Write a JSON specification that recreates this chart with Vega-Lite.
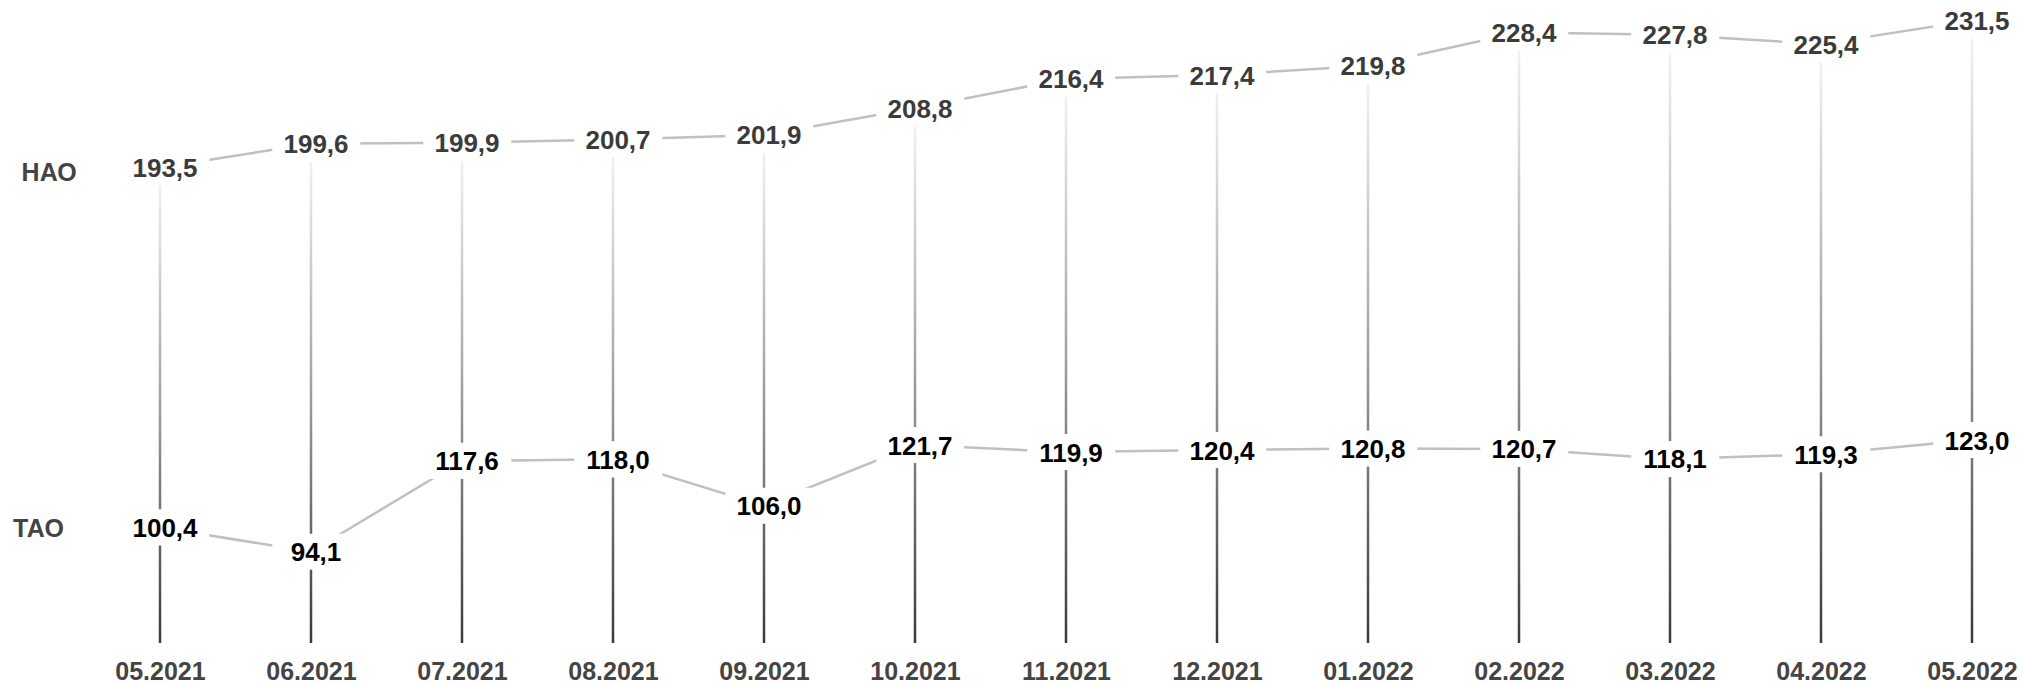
{
  "$schema": "https://vega.github.io/schema/vega-lite/v6.json",
  "width": 1812,
  "height": 636,
  "autosize": {"type": "none"},
  "padding": {"left": 160, "top": 7, "right": 50, "bottom": 40},
  "background": "white",
  "config": {
    "view": {"stroke": null},
    "locale": {"number": {"decimal": ",", "thousands": " ", "grouping": [3], "currency": ["", ""]}},
    "font": "Liberation Sans"
  },
  "data": {
    "values": [
      {"month": "05.2021", "hao": 193.5, "tao": 100.4},
      {"month": "06.2021", "hao": 199.6, "tao": 94.1},
      {"month": "07.2021", "hao": 199.9, "tao": 117.6},
      {"month": "08.2021", "hao": 200.7, "tao": 118.0},
      {"month": "09.2021", "hao": 201.9, "tao": 106.0},
      {"month": "10.2021", "hao": 208.8, "tao": 121.7},
      {"month": "11.2021", "hao": 216.4, "tao": 119.9},
      {"month": "12.2021", "hao": 217.4, "tao": 120.4},
      {"month": "01.2022", "hao": 219.8, "tao": 120.8},
      {"month": "02.2022", "hao": 228.4, "tao": 120.7},
      {"month": "03.2022", "hao": 227.8, "tao": 118.1},
      {"month": "04.2022", "hao": 225.4, "tao": 119.3},
      {"month": "05.2022", "hao": 231.5, "tao": 123.0}
    ]
  },
  "encoding": {
    "x": {
      "field": "month", "type": "ordinal", "sort": null,
      "scale": {"type": "point", "padding": 0},
      "axis": {
        "title": null, "domain": false, "ticks": false, "tickSize": 0, "grid": false,
        "labelAngle": 0, "labelPadding": 16, "labelBaseline": "top",
        "labelFont": "Liberation Sans", "labelFontSize": 25, "labelFontWeight": "bold",
        "labelColor": "#444444", "labelOverlap": false
      }
    }
  },
  "layer": [
    {
      "mark": {
        "type": "bar", "width": 2.5,
        "color": {
          "gradient": "linear", "x1": 0, "y1": 0, "x2": 0, "y2": 1,
          "stops": [
            {"offset": 0, "color": "#f7f6fa"},
            {"offset": 0.45, "color": "#a8a8a8"},
            {"offset": 1, "color": "#3a3a3a"}
          ]
        }
      },
      "encoding": {
        "y": {
          "field": "hao", "type": "quantitative",
          "scale": {"domain": [70.5, 235], "nice": false, "zero": false},
          "axis": null
        },
        "y2": {"datum": 70.5}
      }
    },
    {
      "mark": {"type": "line", "color": "#c0c0c0", "strokeWidth": 2.5},
      "encoding": {"y": {"field": "hao", "type": "quantitative"}}
    },
    {
      "mark": {"type": "line", "color": "#c0c0c0", "strokeWidth": 2.5},
      "encoding": {"y": {"field": "tao", "type": "quantitative"}}
    },
    {
      "mark": {"type": "point", "shape": "M-0.88,-0.41H1.12V0.41H-0.88Z", "size": 7744, "filled": true, "color": "white", "opacity": 1},
      "encoding": {"y": {"field": "hao", "type": "quantitative"}}
    },
    {
      "mark": {"type": "point", "shape": "M-0.88,-0.41H1.12V0.41H-0.88Z", "size": 7744, "filled": true, "color": "white", "opacity": 1},
      "encoding": {"y": {"field": "tao", "type": "quantitative"}}
    },
    {
      "mark": {"type": "text", "font": "Liberation Sans", "fontSize": 26, "fontWeight": "bold", "color": "#3b3b3b", "dx": 5, "dy": 1.5, "baseline": "middle", "align": "center"},
      "encoding": {
        "y": {"field": "hao", "type": "quantitative"},
        "text": {"field": "hao", "type": "quantitative", "format": ".1f"}
      }
    },
    {
      "mark": {"type": "text", "font": "Liberation Sans", "fontSize": 26, "fontWeight": "bold", "color": "#000000", "dx": 5, "dy": 1.5, "baseline": "middle", "align": "center"},
      "encoding": {
        "y": {"field": "tao", "type": "quantitative"},
        "text": {"field": "tao", "type": "quantitative", "format": ".1f"}
      }
    },
    {
      "data": {"values": [{"month": "05.2021", "pos": 192.1, "name": "НАО"}]},
      "mark": {"type": "text", "font": "Liberation Sans", "fontSize": 25, "fontWeight": "bold", "color": "#444444", "dx": -110.8, "baseline": "middle", "align": "center"},
      "encoding": {
        "y": {"field": "pos", "type": "quantitative"},
        "text": {"field": "name", "type": "nominal"}
      }
    },
    {
      "data": {"values": [{"month": "05.2021", "pos": 100.0, "name": "ТАО"}]},
      "mark": {"type": "text", "font": "Liberation Sans", "fontSize": 25, "fontWeight": "bold", "color": "#444444", "dx": -121.5, "baseline": "middle", "align": "center"},
      "encoding": {
        "y": {"field": "pos", "type": "quantitative"},
        "text": {"field": "name", "type": "nominal"}
      }
    }
  ]
}
